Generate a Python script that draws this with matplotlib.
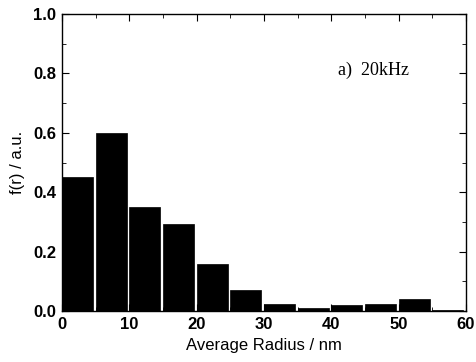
import matplotlib
matplotlib.use("Agg")
import matplotlib.pyplot as plt
from matplotlib.ticker import MultipleLocator

# histogram bins (left edges, nm) and heights
bin_left = [0, 5, 10, 15, 20, 25, 30, 35, 40, 45, 50, 55]
heights = [0.45, 0.60, 0.35, 0.293, 0.158, 0.07, 0.025, 0.01, 0.02, 0.025, 0.04, 0.003]

plt.rcParams['font.family'] = ['Liberation Sans', 'DejaVu Sans']
plt.rcParams['font.weight'] = 'bold'

fig = plt.figure(figsize=(4.77, 3.62), dpi=100)
ax = fig.add_axes([0.130, 0.141, 0.847, 0.820])

ax.bar(bin_left, heights, width=4.6, align='edge', color='black', edgecolor='black', linewidth=0.5)

ax.set_xlim(0, 60)
ax.set_ylim(0, 1.0)
ax.xaxis.set_major_locator(MultipleLocator(10))
ax.xaxis.set_minor_locator(MultipleLocator(5))
ax.yaxis.set_major_locator(MultipleLocator(0.2))
ax.yaxis.set_minor_locator(MultipleLocator(0.1))
ax.yaxis.set_major_formatter(plt.FuncFormatter(lambda v, p: f"{v:.1f}"))
ax.tick_params(which='both', direction='in', top=True, right=True, labelsize=12)
ax.tick_params(which='major', length=5, pad=4)
ax.tick_params(which='minor', length=3)
for s in ax.spines.values():
    s.set_linewidth(1.0)

ax.set_xlabel("Average Radius / nm", fontsize=12, labelpad=5, fontweight='normal')
ax.set_ylabel("f(r) / a.u.", fontsize=12, labelpad=6, fontweight='normal')
ax.text(0.683, 0.81, "a)  20kHz", transform=ax.transAxes, fontsize=13, va='center',
        fontweight='normal', family=['Liberation Serif', 'DejaVu Serif'])

fig.savefig("out.png", dpi=100)
